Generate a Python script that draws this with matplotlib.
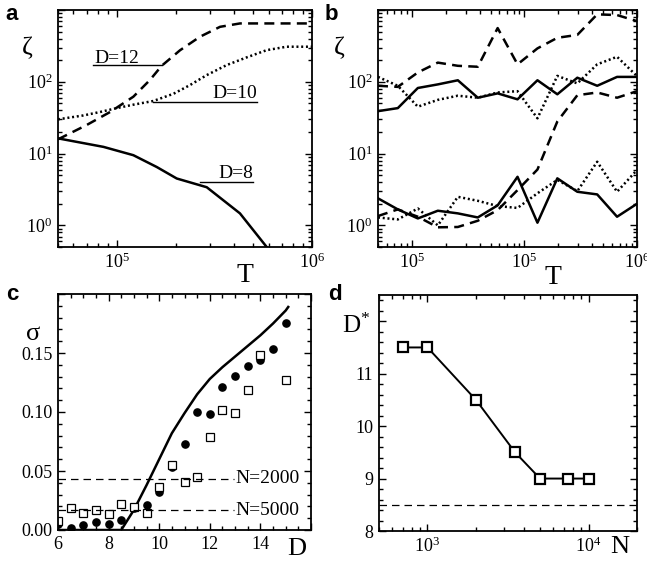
import matplotlib
matplotlib.use("Agg")
import matplotlib.pyplot as plt
from matplotlib.ticker import FixedLocator, FixedFormatter, LogLocator, MultipleLocator, NullFormatter

plt.rcParams['font.family'] = ['Liberation Serif', 'DejaVu Serif']
plt.rcParams['mathtext.fontset'] = 'custom'
plt.rcParams['mathtext.rm'] = 'Liberation Serif'
plt.rcParams['mathtext.it'] = 'Liberation Serif:italic'
plt.rcParams['mathtext.bf'] = 'Liberation Serif:bold'

# ---------------- Panel a data ----------------
a_T_d8 = [50000, 85500, 121600, 160300, 202800, 289000, 427500, 586000, 640000]
a_z_d8 = [16.3, 12.4, 9.5, 6.5, 4.5, 3.4, 1.47, 0.5, 0.35]
a_T_d10 = [50000, 67500, 82200, 100000, 121600, 153800, 195000, 237100, 289000,
           365600, 463400, 586100, 741300, 1000000]
a_z_d10 = [30, 34, 38, 43, 48, 54, 68, 90, 124, 171, 219, 276, 308, 308]
a_T_d12 = [50000, 70100, 92500, 121600, 147900, 169800, 210900, 266700, 338000,
           427600, 1000000]
a_z_d12 = [15.8, 25, 38, 62, 106, 167, 275, 424, 583, 650, 650]

# ---------------- Panel b data ----------------
b_T = [5000, 7500, 11300, 17000, 25600, 38500, 57800, 86800, 130500, 196000,
       295000, 443000, 665000, 1000000]
b_solid_hi = [39, 43, 82, 92, 105, 60, 69, 57, 105, 67, 114, 88, 117, 117]
b_dash_hi = [88, 85, 135, 185, 167, 162, 560, 175, 292, 410, 450, 870, 850, 700]
b_dot_hi = [117, 88, 45, 56, 64, 60, 71, 74, 31, 121, 95, 175, 223, 120]
b_solid_lo = [2.38, 1.67, 1.25, 1.6, 1.47, 1.29, 1.9, 4.75, 1.09, 4.52, 2.94, 2.7, 1.32, 2.0]
b_dash_lo = [1.35, 1.67, 1.32, 0.94, 0.95, 1.16, 1.63, 3.1, 6.0, 28, 65, 71, 60, 74]
b_dot_lo = [1.29, 1.21, 1.72, 1.0, 2.5, 2.2, 1.86, 1.75, 2.8, 4.3, 3.0, 7.7, 2.94, 5.9]
b_xtick_vals = [1e4, 1e5, 1e6]
b_xtick_labels = [r'$10^{5}$', r'$10^{5}$', r'$10^{6}$']

# ---------------- Panel c data ----------------
c_D = [6, 6.5, 7, 7.5, 8, 8.5, 9, 9.5, 10, 10.5, 11, 11.5, 12, 12.5, 13, 13.5, 14, 14.5, 15]
c_circ = [0.005, 0.002, 0.0044, 0.007, 0.0047, 0.0087, 0.019, 0.021, 0.0326, 0.053, 0.073,
          0.100, 0.0986, 0.121, 0.1305, 0.1387, 0.1443, 0.1537, 0.1754]
c_sq_D = [6, 6.5, 7, 7.5, 8, 8.5, 9, 9.5, 10, 10.5, 11, 11.5, 12, 12.5, 13, 13.5, 14, 15]
c_sq = [0.008, 0.0186, 0.014, 0.017, 0.0137, 0.022, 0.0195, 0.0145, 0.0366, 0.055, 0.041,
        0.0448, 0.0788, 0.102, 0.0994, 0.119, 0.148, 0.1268]
c_line_D = [6, 8.5, 9, 9.5, 10, 10.5, 11, 11.5, 12, 12.5, 13, 13.5, 14, 14.5, 15, 15.1]
c_line = [0, 0, 0.017, 0.038, 0.060, 0.082, 0.099, 0.115, 0.128, 0.138, 0.147, 0.156,
          0.165, 0.175, 0.186, 0.189]
c_N2000 = 0.0436
c_N5000 = 0.0166

# ---------------- Panel d data ----------------
d_N = [700, 1000, 2000, 3500, 5000, 7500, 10000]
d_Dstar = [11.5, 11.5, 10.5, 9.5, 9, 9, 9]
d_ref = 8.5

W, H = 647, 561
fig = plt.figure(figsize=(W / 100, H / 100), dpi=100)


def box(l, t, r, b):
    return [l / W, 1 - b / H, (r - l) / W, (b - t) / H]


def style(ax):
    ax.tick_params(which='both', direction='in', top=True, right=True, labelsize=13,
                   width=1.0, pad=4)
    ax.tick_params(which='major', length=5)
    ax.tick_params(which='minor', length=3)
    for s in ax.spines.values():
        s.set_linewidth(1.3)


lw = 1.8
DASH = (0, (4, 2.5))
DOT = (0, (0.8, 1.1))

# ---- Panel a ----
axa = fig.add_axes(box(58, 10, 312, 247))
axa.plot(a_T_d8, a_z_d8, color='black', lw=lw)
axa.plot(a_T_d10, a_z_d10, color='black', lw=lw, linestyle=DOT)
axa.plot(a_T_d12, a_z_d12, color='black', lw=lw, linestyle=DASH)
axa.set_xscale('log')
axa.set_yscale('log')
axa.set_xlim(5e4, 1e6)
axa.set_ylim(0.5, 1000)
axa.xaxis.set_major_locator(FixedLocator([1e5, 1e6]))
axa.xaxis.set_major_formatter(FixedFormatter([r'$10^{5}$', r'$10^{6}$']))
axa.xaxis.set_minor_locator(LogLocator(base=10, subs=range(2, 10)))
axa.xaxis.set_minor_formatter(NullFormatter())
axa.yaxis.set_major_locator(FixedLocator([1, 10, 100, 1000]))
axa.yaxis.set_major_formatter(FixedFormatter([r'$10^{0}$', r'$10^{1}$', r'$10^{2}$', '']))
axa.yaxis.set_minor_locator(LogLocator(base=10, subs=range(2, 10)))
axa.yaxis.set_minor_formatter(NullFormatter())
style(axa)
# labels with underlines
axa.plot([75900, 170000], [171, 171], color='black', lw=1.0)
axa.text(76500, 182, 'D=12', fontsize=14, ha='left', va='baseline')
axa.plot([154000, 521000], [52.5, 52.5], color='black', lw=1.0)
axa.text(521000, 59, 'D=10', fontsize=14, ha='right', va='baseline')
axa.plot([267000, 501000], [4.05, 4.05], color='black', lw=1.0)
axa.text(501000, 4.6, 'D=8', fontsize=14, ha='right', va='baseline')

# ---- Panel b ----
axb = fig.add_axes(box(378, 10, 637, 247))
axb.plot(b_T, b_solid_hi, color='black', lw=lw)
axb.plot(b_T, b_dash_hi, color='black', lw=lw, linestyle=DASH)
axb.plot(b_T, b_dot_hi, color='black', lw=lw, linestyle=DOT)
axb.plot(b_T, b_solid_lo, color='black', lw=lw)
axb.plot(b_T, b_dash_lo, color='black', lw=lw, linestyle=DASH)
axb.plot(b_T, b_dot_lo, color='black', lw=lw, linestyle=DOT)
axb.set_xscale('log')
axb.set_yscale('log')
axb.set_xlim(5e3, 1e6)
axb.set_ylim(0.5, 1000)
axb.xaxis.set_major_locator(FixedLocator(b_xtick_vals))
axb.xaxis.set_major_formatter(FixedFormatter(b_xtick_labels))
axb.xaxis.set_minor_locator(LogLocator(base=10, subs=range(2, 10)))
axb.xaxis.set_minor_formatter(NullFormatter())
axb.yaxis.set_major_locator(FixedLocator([1, 10, 100, 1000]))
axb.yaxis.set_major_formatter(FixedFormatter([r'$10^{0}$', r'$10^{1}$', r'$10^{2}$', '']))
axb.yaxis.set_minor_locator(LogLocator(base=10, subs=range(2, 10)))
axb.yaxis.set_minor_formatter(NullFormatter())
style(axb)

# ---- Panel c ----
axc = fig.add_axes(box(58, 294, 311, 530))
axc.plot(c_line_D, c_line, color='black', lw=lw)
axc.plot(c_D, c_circ, 'o', color='black', markersize=5.2)
axc.plot(c_sq_D, c_sq, 's', markerfacecolor='white', markeredgecolor='black',
         markersize=5.2, markeredgewidth=0.9)
axc.plot([6, 12.95], [c_N2000, c_N2000], color='black', lw=0.9, linestyle=(0, (6, 4)))
axc.plot([6, 12.95], [c_N5000, c_N5000], color='black', lw=0.9, linestyle=(0, (6, 4)))
axc.text(13.0, c_N2000, 'N=2000', fontsize=14, ha='left', va='center')
axc.text(13.0, c_N5000, 'N=5000', fontsize=14, ha='left', va='center')
axc.set_xlim(6, 16)
axc.set_ylim(0, 0.2)
axc.xaxis.set_major_locator(FixedLocator([6, 8, 10, 12, 14, 16]))
axc.xaxis.set_major_formatter(FixedFormatter(['6', '8', '10', '12', '14', '']))
axc.xaxis.set_minor_locator(MultipleLocator(0.5))
axc.yaxis.set_major_locator(FixedLocator([0, 0.05, 0.10, 0.15, 0.2]))
axc.yaxis.set_major_formatter(FixedFormatter(['0.00', '0.05', '0.10', '0.15', '']))
axc.yaxis.set_minor_locator(MultipleLocator(0.01))
style(axc)

# ---- Panel d ----
axd = fig.add_axes(box(379, 295, 637, 531))
axd.plot(d_N, d_Dstar, color='black', lw=1.4, marker='s', markersize=6.5,
         markerfacecolor='white', markeredgecolor='black', markeredgewidth=1.6)
axd.axhline(d_ref, color='black', lw=0.9, linestyle=(0, (6, 4)))
axd.set_xscale('log')
axd.set_xlim(500, 20000)
axd.set_ylim(8, 12.5)
axd.xaxis.set_major_locator(FixedLocator([1e3, 1e4]))
axd.xaxis.set_major_formatter(FixedFormatter([r'$10^{3}$', r'$10^{4}$']))
axd.xaxis.set_minor_locator(LogLocator(base=10, subs=range(2, 10)))
axd.xaxis.set_minor_formatter(NullFormatter())
axd.yaxis.set_major_locator(FixedLocator([8, 9, 10, 11, 12]))
axd.yaxis.set_major_formatter(FixedFormatter(['8', '9', '10', '11', '']))
axd.yaxis.set_minor_locator(MultipleLocator(0.2))
style(axd)

# ---- axis labels ----
def ftext(x, y, s, **kw):
    fig.text(x / W, 1 - y / H, s, ha='center', va='center', **kw)

ftext(27, 48, 'ζ', fontsize=19)
ftext(339, 48, 'ζ', fontsize=19)
ftext(245, 276, 'T', fontsize=20)
ftext(553, 277, 'T', fontsize=20)
ftext(33, 334, 'σ', fontsize=19)
ftext(297, 549, 'D', fontsize=19)
ftext(356, 326, r'D$^{*}$', fontsize=18)
ftext(620, 547, 'N', fontsize=19)

# ---- panel letters ----
for x, y, s in [(12, 14, 'a'), (331, 14, 'b'), (12, 294, 'c'), (335, 294, 'd')]:
    ftext(x, y, s, fontsize=16, fontweight='bold', family='Liberation Sans')

fig.savefig('out.png', dpi=100)
